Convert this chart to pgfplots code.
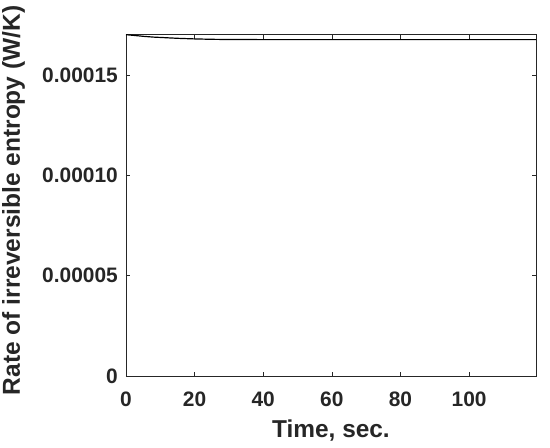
\documentclass[border=0pt]{standalone}
\usepackage{fontspec}
\setmainfont{Liberation Sans}
\usepackage{pgfplots}
\pgfplotsset{compat=1.18}

\begin{document}
\begin{tikzpicture}
\useasboundingbox (-126bp,-72bp) rectangle (424bp,376bp);
\begin{axis}[
    at={(0,0)}, anchor=south west,
    scale only axis,
    width=410bp, height=341.3bp,
    xmin=0, xmax=119.5, ymin=0, ymax=0.00017,
    xtick={0,20,40,60,80,100},
    xticklabels={0,20,40,60,80,100},
    ytick={0,0.00005,0.0001,0.00015},
    yticklabels={0,0.00005,0.00010,0.00015},
    scaled y ticks=false,
    tick pos=both, tick align=inside,
    major tick length=4bp,
    axis line style={black!85, line width=0.8pt},
    every tick/.style={black!85, line width=0.6pt},
    tick label style={font=\fontsize{21}{25}\selectfont\bfseries, text=black!85},
    xticklabel style={anchor=base, inner sep=0pt, yshift=-30bp},
    yticklabel style={anchor=east, inner sep=0pt, xshift=-8bp},
    xlabel={Time, sec.},
    ylabel={Rate of irreversible entropy (W/K)},
    every axis x label/.style={at={(rel axis cs:0.5,0)}, anchor=base, yshift=-61bp,
        font=\fontsize{24.5}{28}\selectfont\bfseries, text=black!85},
    every axis y label/.style={at={(rel axis cs:0,0.5)}, xshift=-106bp, yshift=5bp,
        rotate=90, anchor=base, font=\fontsize{24.6}{28}\selectfont\bfseries, text=black!85},
]
\addplot[black, line width=1.2pt] coordinates {
    (0,0.0001700) (2,0.0001697) (5,0.0001692) (8,0.0001688) (11,0.00016855)
    (15,0.0001682) (20,0.0001679) (25,0.0001677) (30,0.0001676) (40,0.00016755)
    (60,0.00016755) (80,0.00016755) (100,0.00016755) (119.5,0.00016755)
};
\end{axis}
\end{tikzpicture}
\end{document}
